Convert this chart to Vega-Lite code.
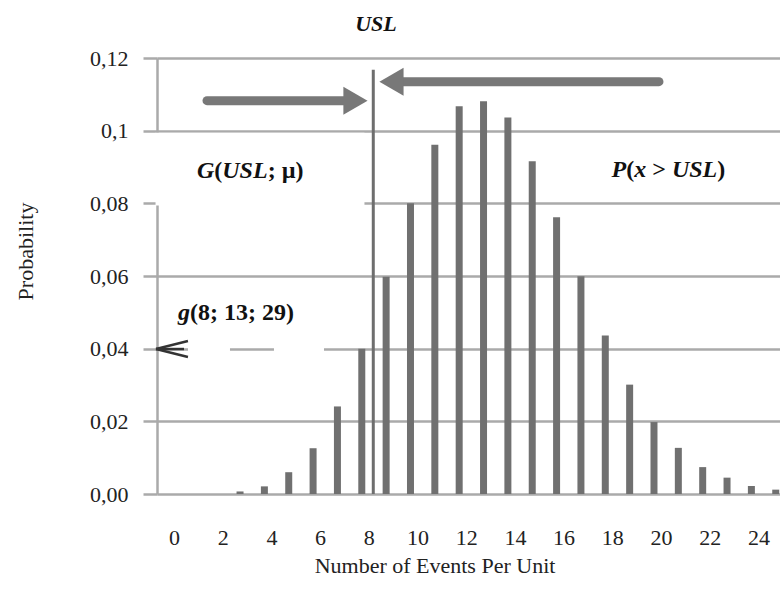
{
  "$schema": "https://vega.github.io/schema/vega-lite/v6.json",
  "width": 623,
  "height": 436,
  "autosize": {"type": "none"},
  "padding": {"left": 157, "top": 58, "right": 0, "bottom": 96},
  "background": "white",
  "config": {"view": {"stroke": null}, "font": "Liberation Serif"},
  "layer": [
    {
      "data": {"values": [
        {"x": 3, "y": 0.0007}, {"x": 4, "y": 0.0021}, {"x": 5, "y": 0.006}, {"x": 6, "y": 0.0126},
        {"x": 7, "y": 0.0241}, {"x": 8, "y": 0.04}, {"x": 9, "y": 0.0598}, {"x": 10, "y": 0.08},
        {"x": 11, "y": 0.0961}, {"x": 12, "y": 0.1067}, {"x": 13, "y": 0.1081}, {"x": 14, "y": 0.1036},
        {"x": 15, "y": 0.0916}, {"x": 16, "y": 0.0762}, {"x": 17, "y": 0.0599}, {"x": 18, "y": 0.0436},
        {"x": 19, "y": 0.0301}, {"x": 20, "y": 0.0198}, {"x": 21, "y": 0.0127}, {"x": 22, "y": 0.0074},
        {"x": 23, "y": 0.0045}, {"x": 24, "y": 0.0022}, {"x": 25, "y": 0.0012}
      ]},
      "mark": {"type": "bar", "width": 7, "color": "#707070", "orient": "vertical"},
      "encoding": {
        "x": {
          "field": "x", "type": "quantitative",
          "scale": {"domain": [-0.41, 25.175], "nice": false, "zero": false, "padding": 0},
          "axis": {
            "values": [0, 2, 4, 6, 8, 10, 12, 14, 16, 18, 20, 22, 24],
            "grid": false, "domain": false, "ticks": false,
            "labelOffset": 7, "labelPadding": 43, "labelBaseline": "middle", "labelAlign": "center",
            "labelFont": "Liberation Serif", "labelFontSize": 22, "labelColor": "#222222",
            "labelFlush": false, "labelOverlap": false,
            "title": "Number of Events Per Unit",
            "titleFont": "Liberation Serif", "titleFontSize": 22, "titleFontWeight": "normal", "titleColor": "#222222",
            "titleX": 277.5, "titleY": 71, "titleAlign": "center", "titleBaseline": "middle"
          }
        },
        "y": {
          "field": "y", "type": "quantitative",
          "scale": {"domain": [0, 0.12], "nice": false, "zero": true, "padding": 0},
          "axis": {
            "values": [0, 0.02, 0.04, 0.06, 0.08, 0.1, 0.12],
            "grid": true, "gridColor": "#aaaaaa", "gridWidth": 2.5, "gridOpacity": 1,
            "domain": true, "domainColor": "#aaaaaa", "domainWidth": 2.5,
            "ticks": true, "tickSize": 14, "tickColor": "#aaaaaa", "tickWidth": 2.5,
            "labelPadding": 15, "labelFont": "Liberation Serif", "labelFontSize": 22, "labelColor": "#222222",
            "labelBaseline": "middle", "labelFlush": false, "labelOverlap": false,
            "labelExpr": "abs(datum.value - 0.1) < 1e-9 ? '0,1' : replace(format(datum.value, '.2f'), '.', ',')",
            "title": "Probability",
            "titleFont": "Liberation Serif", "titleFontSize": 22, "titleFontWeight": "normal", "titleColor": "#222222",
            "titleX": -132, "titleY": 193, "titleAngle": -90, "titleAlign": "center", "titleBaseline": "middle"
          }
        }
      }
    },
    {
      "data": {"values": [
        {"x": -0.47, "x2": 8.11, "y": 0.0794, "y2": 0.0994},
        {"x": 0.862, "x2": 2.587, "y": 0.03853, "y2": 0.04128},
        {"x": 4.394, "x2": 6.448, "y": 0.03853, "y2": 0.04128}
      ]},
      "mark": {"type": "rect", "color": "white"},
      "encoding": {
        "x": {"field": "x", "type": "quantitative"},
        "x2": {"field": "x2"},
        "y": {"field": "y", "type": "quantitative"},
        "y2": {"field": "y2"}
      }
    },
    {
      "data": {"values": [
        {"x": -0.452, "y": 0.0399, "x2": 0.862, "y2": 0.0421},
        {"x": -0.452, "y": 0.0399, "x2": 0.862, "y2": 0.0377},
        {"x": -0.452, "y": 0.0399, "x2": 0.698, "y2": 0.0399}
      ]},
      "mark": {"type": "rule", "color": "#333333", "strokeWidth": 2.5},
      "encoding": {
        "x": {"field": "x", "type": "quantitative"},
        "x2": {"field": "x2"},
        "y": {"field": "y", "type": "quantitative"},
        "y2": {"field": "y2"}
      }
    },
    {
      "data": {"values": [{"x": 8.472, "y": 0, "y2": 0.1168}]},
      "mark": {"type": "rule", "color": "#6e6e6e", "strokeWidth": 3},
      "encoding": {
        "x": {"field": "x", "type": "quantitative"},
        "y": {"field": "y", "type": "quantitative"},
        "y2": {"field": "y2"}
      }
    },
    {
      "data": {"values": [
        {"x": 1.643, "x2": 7.6, "y": 0.10825},
        {"x": 9.3, "x2": 20.205, "y": 0.11348}
      ]},
      "mark": {"type": "rule", "color": "#787878", "strokeWidth": 9, "strokeCap": "round"},
      "encoding": {
        "x": {"field": "x", "type": "quantitative"},
        "x2": {"field": "x2"},
        "y": {"field": "y", "type": "quantitative"}
      }
    },
    {
      "data": {"values": [{"x": 7.74, "y": 0.10825}]},
      "mark": {"type": "point", "shape": "triangle-right", "filled": true, "size": 780, "color": "#787878", "opacity": 1},
      "encoding": {
        "x": {"field": "x", "type": "quantitative"},
        "y": {"field": "y", "type": "quantitative"}
      }
    },
    {
      "data": {"values": [{"x": 9.22, "y": 0.11348}]},
      "mark": {"type": "point", "shape": "triangle-left", "filled": true, "size": 780, "color": "#787878", "opacity": 1},
      "encoding": {
        "x": {"field": "x", "type": "quantitative"},
        "y": {"field": "y", "type": "quantitative"}
      }
    },
    {
      "data": {"values": [
        {"x": 1.232, "y": 0.08697, "t": "G"},
        {"x": 2.271, "y": 0.08697, "t": "USL"},
        {"x": 18.255, "y": 0.08733, "t": "P"},
        {"x": 19.187, "y": 0.08733, "t": "x"},
        {"x": 20.735, "y": 0.08733, "t": "USL"},
        {"x": 0.452, "y": 0.04789, "t": "g"}
      ]},
      "mark": {"type": "text", "align": "left", "baseline": "alphabetic", "font": "Liberation Serif", "fontSize": 24, "fontWeight": "bold", "fontStyle": "italic", "color": "#111111"},
      "encoding": {
        "x": {"field": "x", "type": "quantitative"},
        "y": {"field": "y", "type": "quantitative"},
        "text": {"field": "t"}
      }
    },
    {
      "data": {"values": [
        {"x": 1.943, "y": 0.08697, "t": "("},
        {"x": 4.136, "y": 0.08697, "t": "; µ)"},
        {"x": 18.858, "y": 0.08733, "t": "("},
        {"x": 19.926, "y": 0.08733, "t": ">"},
        {"x": 22.6, "y": 0.08733, "t": ")"},
        {"x": 0.945, "y": 0.04789, "t": "(8; 13; 29)"}
      ]},
      "mark": {"type": "text", "align": "left", "baseline": "alphabetic", "font": "Liberation Serif", "fontSize": 24, "fontWeight": "bold", "color": "#111111"},
      "encoding": {
        "x": {"field": "x", "type": "quantitative"},
        "y": {"field": "y", "type": "quantitative"},
        "text": {"field": "t"}
      }
    },
    {
      "data": {"values": [{"x": 8.583, "y": 0.12752, "t": "USL"}]},
      "mark": {"type": "text", "align": "center", "baseline": "alphabetic", "font": "Liberation Serif", "fontSize": 22, "fontWeight": "bold", "fontStyle": "italic", "color": "#111111"},
      "encoding": {
        "x": {"field": "x", "type": "quantitative"},
        "y": {"field": "y", "type": "quantitative"},
        "text": {"field": "t"}
      }
    }
  ]
}
